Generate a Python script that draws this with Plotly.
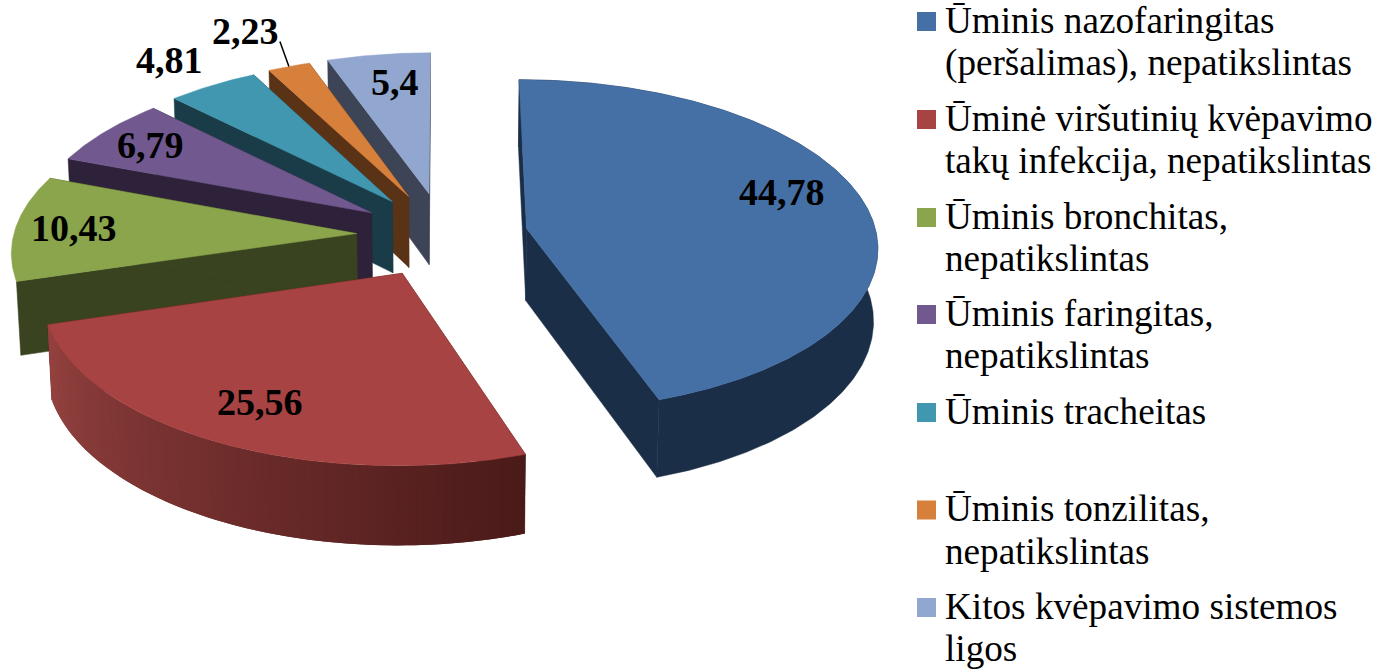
import numpy as np
import plotly.graph_objects as go

# ---- data ----
legend_labels = [
    "Ūminis nazofaringitas<br>(peršalimas), nepatikslintas",
    "Ūminė viršutinių kvėpavimo<br>takų infekcija, nepatikslintas",
    "Ūminis bronchitas,<br>nepatikslintas",
    "Ūminis faringitas,<br>nepatikslintas",
    "Ūminis tracheitas",
    "Ūminis tonzilitas,<br>nepatikslintas",
    "Kitos kvėpavimo sistemos<br>ligos",
]
values = [44.78, 25.56, 10.43, 6.79, 4.81, 2.23, 5.4]
value_labels = ["44,78", "25,56", "10,43", "6,79", "4,81", "2,23", "5,4"]

# ---- style ----
top_colors = ["#4570A6", "#A74342", "#8AA54B", "#71588F", "#4197AF", "#D7803B", "#92A7CF"]
wall_colors = ["#1B2E47", "#4A1A19", "#39431F", "#2D2239", "#1A3C48", "#5A3317", "#3C4456"]
label_pos = [(782, 192), (260, 402), (74, 228), (150, 145), (169, 60), (245, 31), (395, 82)]
legend_y = [21.5, 119.5, 217.5, 314.5, 412.5, 510, 607.5]
draw_order = [6, 5, 4, 3, 2, 0, 1]
explode = [0.24, 0.255, 0.25, 0.25, 0.255, 0.26, 0.26]
radii = [1.0, 1.0, 0.98, 0.98, 0.98, 0.98, 0.985]

CX, CY = 444, 235      # projected pie centre (px)
SX, SY = 350, 165      # horizontal / vertical scale of the unit disc
PERSP = 0.10           # depth perspective
DEPTH = 73
DEPTH_PERSP = 0.01


def project(X, Y, Z=0.0):
    w = 1 + PERSP * np.asarray(Y) + DEPTH_PERSP * Z
    return CX + SX * np.asarray(X) / w, CY + (-SY * np.asarray(Y) + DEPTH * Z) / w


def hex_mix(c1, c2, t):
    a = [int(c1[i:i + 2], 16) for i in (1, 3, 5)]
    b = [int(c2[i:i + 2], 16) for i in (1, 3, 5)]
    return "rgb(%d,%d,%d)" % tuple(round(p + (q - p) * t) for p, q in zip(a, b))


def poly(fig, x, y, color, lw=0.5):
    fig.add_trace(go.Scatter(x=list(x), y=list(y), mode="lines", fill="toself", fillcolor=color,
                             line=dict(color=color, width=lw), hoverinfo="skip", showlegend=False))


total = sum(values)
edges = np.concatenate([[0], np.cumsum(values)]) / total * 2 * np.pi
fig = go.Figure()

for i in draw_order:
    a0, a1 = edges[i], edges[i + 1]
    mid = (a0 + a1) / 2
    r = radii[i]
    ox, oy = explode[i] * np.sin(mid), explode[i] * np.cos(mid)
    th = np.linspace(a0, a1, max(12, int((a1 - a0) * 90)))
    X, Y = ox + r * np.sin(th), oy + r * np.cos(th)

    # cut faces
    for a in (a0, a1):
        ex, ey = ox + r * np.sin(a), oy + r * np.cos(a)
        px, py = project(np.array([ox, ex]), np.array([oy, ey]), 0)
        qx, qy = project(np.array([ex, ox]), np.array([ey, oy]), 1)
        poly(fig, [px[0], px[1], qx[0], qx[1], px[0]], [py[0], py[1], qy[0], qy[1], py[0]], wall_colors[i])

    # outer wall: only where the rim faces the viewer
    tx, ty = project(X, Y, 0)
    bx, by = project(X, Y, 1)
    if i == 1:  # gradient wall
        n = len(th)
        for k in range(n - 1):
            j = min(k + 2, n - 1)
            t = k / (n - 1)
            col = hex_mix("#4A1A19", "#954240", t)
            poly(fig, list(tx[k:j + 1]) + list(bx[k:j + 1][::-1]),
                 list(ty[k:j + 1]) + list(by[k:j + 1][::-1]), col, lw=0)
    elif np.cos(mid) < 0 or i == 0:
        poly(fig, list(tx) + list(bx[::-1]), list(ty) + list(by[::-1]), wall_colors[i])

    # top face
    ax, ay = project(ox, oy, 0)
    poly(fig, [float(ax)] + list(tx) + [float(ax)], [float(ay)] + list(ty) + [float(ay)], top_colors[i])

# leader line for the small slice
mid = (edges[5] + edges[6]) / 2
ex, ey = project((explode[5] + radii[5]) * np.sin(mid), (explode[5] + radii[5]) * np.cos(mid), 0)
fig.add_trace(go.Scatter(x=[float(ex) - 9, float(ex)], y=[float(ey) - 25, float(ey)], mode="lines",
                         line=dict(color="black", width=1.5), hoverinfo="skip", showlegend=False))

annotations = []
for txt, (x, y) in zip(value_labels, label_pos):
    annotations.append(dict(x=x, y=y, xref="x", yref="y", text=f"<b>{txt}</b>", showarrow=False,
                            xanchor="center", yanchor="middle",
                            font=dict(family="Liberation Serif", size=38, color="black")))

shapes = []
LINE_H = 42.5
for lab, yc, col in zip(legend_labels, legend_y, top_colors):
    shapes.append(dict(type="rect", xref="x", yref="y", x0=917, x1=936, y0=yc - 9.5, y1=yc + 9.5,
                       fillcolor=col, line=dict(width=0)))
    for n, line in enumerate(lab.split("<br>")):
        annotations.append(dict(x=945, y=yc + n * LINE_H - 1.5, xref="x", yref="y", text=line, showarrow=False,
                                xanchor="left", yanchor="middle", xshift=-2,
                                font=dict(family="Liberation Serif", size=37.2, color="black")))

fig.update_layout(
    width=1377, height=670, margin=dict(l=0, r=0, t=0, b=0),
    paper_bgcolor="white", plot_bgcolor="white", showlegend=False,
    xaxis=dict(range=[0, 1377], visible=False, fixedrange=True),
    yaxis=dict(range=[670, 0], visible=False, fixedrange=True),
    annotations=annotations, shapes=shapes,
)
fig.write_html("out.html", config={"displayModeBar": False},
               post_script="document.body.style.margin='0';document.body.style.overflow='hidden';")
